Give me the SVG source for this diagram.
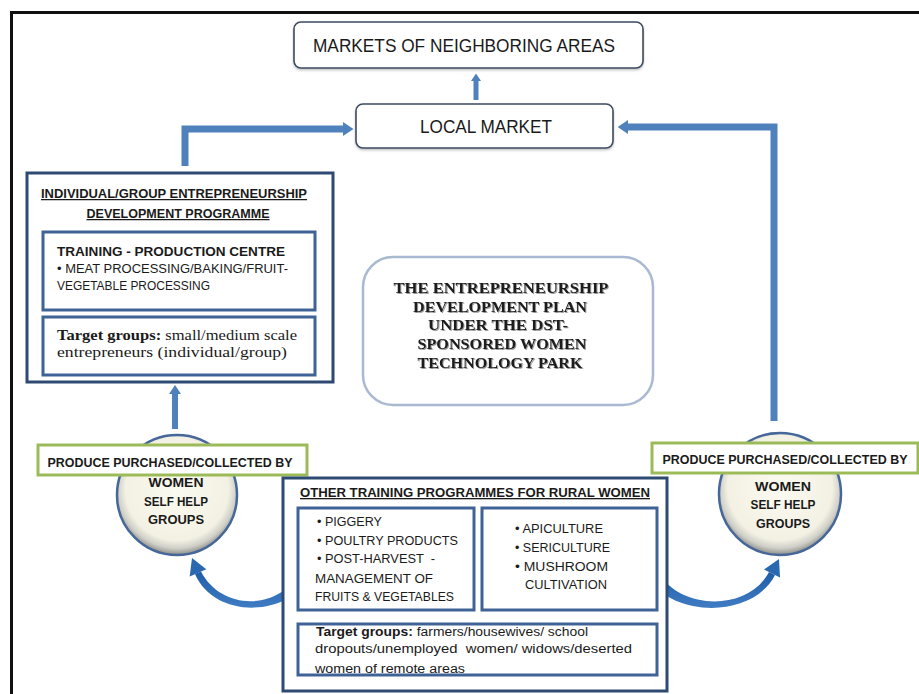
<svg xmlns="http://www.w3.org/2000/svg" width="919" height="694" viewBox="0 0 919 694">
<defs>
<style>
.sans{font-family:"Liberation Sans",Arial,sans-serif;fill:#1a1a1a}
.serif{font-family:"Liberation Serif","Times New Roman",serif;fill:#1a1a1a}
.b{font-weight:bold}
.mkt{fill:#fff;stroke:#3d4b60;stroke-width:1.6}
.big{fill:#fff;stroke:#2f4a72;stroke-width:3}
.inner{fill:#fff;stroke:#3f6396;stroke-width:3}
.green{fill:#fff;stroke:#9bbb59;stroke-width:3}
.conn{fill:none;stroke:#4f81bd;stroke-linejoin:miter}
.ul{text-decoration:underline}
</style>
<marker id="ah" viewBox="0 0 3 4" refX="0" refY="2" markerWidth="1.5" markerHeight="2" orient="auto" markerUnits="strokeWidth">
<path d="M0,0 L3,2 L0,4 z" fill="#4f81bd"/>
</marker>
<radialGradient id="cg" cx="0.5" cy="0.45" r="0.55">
<stop offset="0" stop-color="#fbfaf1"/>
<stop offset="0.78" stop-color="#f3f1e3"/>
<stop offset="0.9" stop-color="#cfcfc8"/>
<stop offset="1" stop-color="#8c8c88"/>
</radialGradient>
<linearGradient id="cv" x1="0" y1="0" x2="0" y2="1">
<stop offset="0" stop-color="#1f5da6"/>
<stop offset="1" stop-color="#3f7cc4"/>
</linearGradient>
<filter id="sh" x="-10%" y="-10%" width="120%" height="130%">
<feDropShadow dx="0" dy="1.5" stdDeviation="1" flood-color="#000" flood-opacity="0.25"/>
</filter>
<filter id="ts" x="-5%" y="-20%" width="110%" height="140%">
<feDropShadow dx="1" dy="1" stdDeviation="0.7" flood-color="#555" flood-opacity="0.6"/>
</filter>
</defs>
<rect width="919" height="694" fill="#fff"/>
<rect x="11.5" y="12.5" width="1000" height="1000" fill="none" stroke="#111" stroke-width="3"/>

<g id="connectors">
<path class="conn" d="M476,100 V81" stroke-width="5" marker-end="url(#ah)"/>
<path class="conn" d="M185,166 V129 H343" stroke-width="7" marker-end="url(#ah)"/>
<path class="conn" d="M774,421 V127 H628" stroke-width="7" marker-end="url(#ah)"/>
<path class="conn" d="M175,429 V394" stroke-width="6" marker-end="url(#ah)"/>
<path d="M307,579 C288,616 215,620 195,574 L201,571.5 C222,612 280,610 300,572 Z" fill="url(#cv)"/>
<path d="M189.7,576.4 L192,558 L206.3,569.2 Z" fill="#2a68b0"/>
<path d="M651,580 C672,616 752,620 775,575 L769,572 C748,612 680,610 659,573 Z" fill="url(#cv)"/>
<path d="M764,569.4 L779,559 L780,577.6 Z" fill="#2a68b0"/>
</g>

<g id="markets">
<rect class="mkt" x="294" y="22" width="349" height="46" rx="7" filter="url(#sh)"/>
<text class="sans" x="464" y="52" font-size="18" text-anchor="middle" textLength="302" lengthAdjust="spacingAndGlyphs" fill="#000">MARKETS OF NEIGHBORING AREAS</text>
</g>

<g id="local-market">
<rect class="mkt" x="356" y="104" width="257" height="44" rx="7" filter="url(#sh)"/>
<text class="sans" x="486" y="133" font-size="18" text-anchor="middle" textLength="132" lengthAdjust="spacingAndGlyphs">LOCAL MARKET</text>
</g>

<g id="edp">
<rect class="big" x="27" y="173" width="306" height="209"/>
<text class="sans b ul" x="174" y="198" font-size="12.5" text-anchor="middle" textLength="266" lengthAdjust="spacingAndGlyphs">INDIVIDUAL/GROUP ENTREPRENEURSHIP</text>
<text class="sans b ul" x="178" y="218" font-size="12.5" text-anchor="middle" textLength="183" lengthAdjust="spacingAndGlyphs">DEVELOPMENT PROGRAMME</text>
<rect class="inner" x="43" y="232" width="272" height="78"/>
<text class="sans b" x="57" y="256" font-size="13" textLength="228" lengthAdjust="spacingAndGlyphs">TRAINING - PRODUCTION CENTRE</text>
<text class="sans" x="57" y="273" font-size="12.5" textLength="231" lengthAdjust="spacingAndGlyphs">• MEAT PROCESSING/BAKING/FRUIT-</text>
<text class="sans" x="57" y="290" font-size="12.5" textLength="153" lengthAdjust="spacingAndGlyphs">VEGETABLE PROCESSING</text>
<rect class="inner" x="43" y="317" width="272" height="58"/>
<text class="serif" x="57" y="340" font-size="14" textLength="240" lengthAdjust="spacingAndGlyphs"><tspan class="b">Target groups:</tspan> small/medium scale</text>
<text class="serif" x="57" y="357" font-size="14" textLength="230" lengthAdjust="spacingAndGlyphs">entrepreneurs (individual/group)</text>
</g>

<g id="plan">
<rect x="363" y="257" width="290" height="148" rx="30" fill="#fff" stroke="#a9b9d2" stroke-width="2.5"/>
<g filter="url(#ts)" class="serif b" font-size="14.5" text-anchor="middle">
<text x="501" y="293" textLength="215" lengthAdjust="spacingAndGlyphs">THE ENTREPRENEURSHIP</text>
<text x="500" y="312" textLength="174" lengthAdjust="spacingAndGlyphs">DEVELOPMENT PLAN</text>
<text x="498" y="330" textLength="140" lengthAdjust="spacingAndGlyphs">UNDER THE DST-</text>
<text x="502" y="349" textLength="169" lengthAdjust="spacingAndGlyphs">SPONSORED WOMEN</text>
<text x="500" y="368" textLength="165" lengthAdjust="spacingAndGlyphs">TECHNOLOGY PARK</text>
</g>
</g>

<g id="shg-left">
<circle cx="177" cy="495" r="60" fill="url(#cg)" stroke="#45679a" stroke-width="2.5"/>
<rect class="green" x="38" y="445" width="269" height="30"/>
<text class="sans b" x="170" y="467" font-size="12" text-anchor="middle" textLength="245" lengthAdjust="spacingAndGlyphs">PRODUCE PURCHASED/COLLECTED BY</text>
<text class="sans b" x="176" y="487" font-size="13" text-anchor="middle" textLength="55" lengthAdjust="spacingAndGlyphs">WOMEN</text>
<text class="sans b" x="176" y="506" font-size="13" text-anchor="middle" textLength="64" lengthAdjust="spacingAndGlyphs">SELF HELP</text>
<text class="sans b" x="176" y="524" font-size="13" text-anchor="middle" textLength="56" lengthAdjust="spacingAndGlyphs">GROUPS</text>
</g>

<g id="shg-right">
<circle cx="780" cy="494" r="61" fill="url(#cg)" stroke="#45679a" stroke-width="2.5"/>
<rect class="green" x="652" y="443" width="266" height="30"/>
<text class="sans b" x="785" y="464" font-size="12" text-anchor="middle" textLength="245" lengthAdjust="spacingAndGlyphs">PRODUCE PURCHASED/COLLECTED BY</text>
<text class="sans b" x="783" y="491" font-size="13" text-anchor="middle" textLength="56" lengthAdjust="spacingAndGlyphs">WOMEN</text>
<text class="sans b" x="783" y="509" font-size="13" text-anchor="middle" textLength="65" lengthAdjust="spacingAndGlyphs">SELF HELP</text>
<text class="sans b" x="783" y="528" font-size="13" text-anchor="middle" textLength="54" lengthAdjust="spacingAndGlyphs">GROUPS</text>
</g>

<g id="other-training">
<rect class="big" x="283" y="478" width="384" height="213"/>
<text class="sans b ul" x="300" y="497" font-size="13" textLength="350" lengthAdjust="spacingAndGlyphs">OTHER TRAINING PROGRAMMES FOR RURAL WOMEN</text>
<rect class="inner" x="298" y="508" width="176" height="102"/>
<text class="sans" x="317" y="526" font-size="12.5" textLength="65" lengthAdjust="spacingAndGlyphs">• PIGGERY</text>
<text class="sans" x="317" y="545" font-size="12.5" textLength="141" lengthAdjust="spacingAndGlyphs">• POULTRY PRODUCTS</text>
<text class="sans" x="317" y="563" font-size="12.5" textLength="118" lengthAdjust="spacingAndGlyphs" xml:space="preserve">• POST-HARVEST  -</text>
<text class="sans" x="315" y="583" font-size="12.5" textLength="118" lengthAdjust="spacingAndGlyphs">MANAGEMENT OF</text>
<text class="sans" x="315" y="601" font-size="12.5" textLength="139" lengthAdjust="spacingAndGlyphs">FRUITS &amp; VEGETABLES</text>
<rect class="inner" x="482" y="508" width="175" height="102"/>
<text class="sans" x="515" y="533" font-size="12.5" textLength="88" lengthAdjust="spacingAndGlyphs">• APICULTURE</text>
<text class="sans" x="515" y="552" font-size="12.5" textLength="95" lengthAdjust="spacingAndGlyphs">• SERICULTURE</text>
<text class="sans" x="515" y="571" font-size="12.5" textLength="93" lengthAdjust="spacingAndGlyphs">• MUSHROOM</text>
<text class="sans" x="525" y="589" font-size="12.5" textLength="82" lengthAdjust="spacingAndGlyphs">CULTIVATION</text>
<rect x="298" y="624" width="359" height="51" fill="#fff"/>
<text class="sans" x="316" y="636" font-size="12.5" textLength="272" lengthAdjust="spacingAndGlyphs"><tspan class="b">Target groups:</tspan> farmers/housewives/ school</text>
<text class="sans" x="315" y="653" font-size="12.5" textLength="317" lengthAdjust="spacingAndGlyphs" xml:space="preserve">dropouts/unemployed  women/ widows/deserted</text>
<text class="sans" x="315" y="673" font-size="12.5" textLength="150" lengthAdjust="spacingAndGlyphs">women of remote areas</text>
<rect x="298" y="624" width="359" height="51" fill="none" stroke="#3f6396" stroke-width="3"/>
</g>
</svg>
